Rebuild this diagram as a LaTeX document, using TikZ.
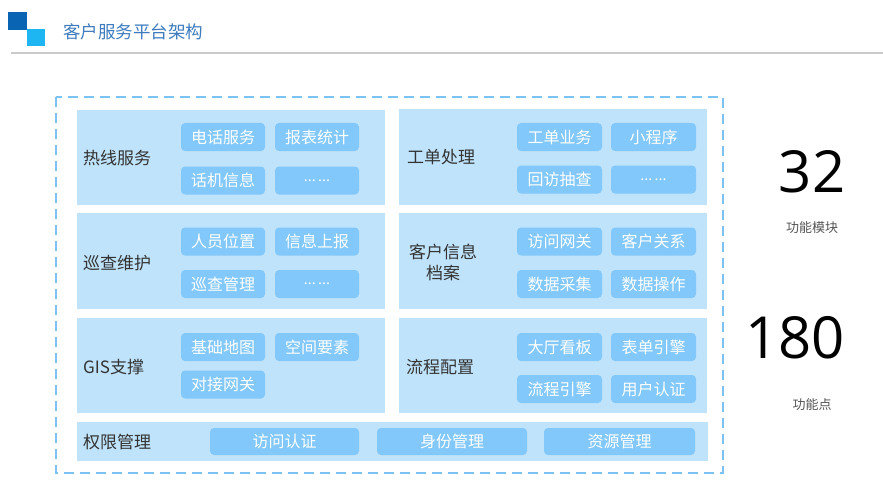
\documentclass[tikz,border=0pt]{standalone}
\usepackage{fontspec}
\setmainfont{Noto Sans CJK SC}
\newfontfamily\numfont{Open Sans}
\definecolor{panelc}{HTML}{BFE3FB}
\definecolor{pillc}{HTML}{82C8FA}
\definecolor{dashc}{HTML}{7CC3F3}
\definecolor{titlec}{HTML}{3E7CBF}
\definecolor{icondark}{HTML}{0A64B4}
\definecolor{iconlight}{HTML}{1DB6F2}
\definecolor{linec}{HTML}{CACACA}
\definecolor{labelc}{HTML}{333333}
\definecolor{greyc}{HTML}{555555}
\tikzset{
  panel/.style={fill=panelc, draw=none, inner sep=0pt},
  pill/.style={fill=pillc, draw=none, rounded corners=4pt, text=white, font=\fontsize{16}{18}\selectfont, inner sep=0pt, minimum height=28pt},
  lbl/.style={text=labelc, font=\fontsize{17}{22}\selectfont, inner sep=0pt},
  bignum/.style={text=black, font=\numfont\fontsize{58}{60}\selectfont, inner sep=0pt},
  statcap/.style={text=greyc, font=\fontsize{13}{15}\selectfont, inner sep=0pt}
}
\newcommand{\moredots}{{\numfont\fontsize{15}{16}\selectfont ...\,...}}
\begin{document}
\begin{tikzpicture}[x=1pt,y=-1pt]
\useasboundingbox[fill=white] (0,0) rectangle (883,500);
% header
\fill[icondark] (8,12) rectangle (27,30);
\fill[iconlight] (27,29) rectangle (45,46);
\node[anchor=west, text=titlec, font=\fontsize{17.5}{20}\selectfont, inner sep=0pt] (title) at (63,32) {客户服务平台架构};
\draw[linec, line width=1.5pt] (11,53) -- (883,53);
% outer dashed frame
\draw[dashc, line width=1.3pt, dash pattern=on 10pt off 6pt] (56,97) rectangle (723,473);
% panels
\node[panel, minimum width=308pt, minimum height=95pt] (p1) at (230.5,157.5) {};
\node[panel, minimum width=308pt, minimum height=95pt] (p2) at (553,157) {};
\node[panel, minimum width=308pt, minimum height=96pt] (p3) at (230.5,261) {};
\node[panel, minimum width=308pt, minimum height=96pt] (p4) at (553,261) {};
\node[panel, minimum width=308pt, minimum height=95pt] (p5) at (230.5,365.5) {};
\node[panel, minimum width=308pt, minimum height=95pt] (p6) at (553,365.5) {};
\node[panel, minimum width=631pt, minimum height=39pt] (p7) at (392,441.5) {};
% labels
\node[lbl, anchor=west] (l1) at (83,158) {热线服务};
\node[lbl, anchor=west] (l2) at (407,157) {工单处理};
\node[lbl, anchor=west] (l3) at (83,263) {巡查维护};
\node[lbl, align=center, font=\fontsize{17}{21}\selectfont] (l4) at (443,262) {客户信息\\档案};
\node[lbl, anchor=west] (l5) at (83,367) {GIS支撑};
\node[lbl, anchor=west] (l6) at (406,367) {流程配置};
\node[lbl, anchor=west] (l7) at (83,442) {权限管理};
% pills row 1
\node[pill, minimum width=84pt] (a1) at (223,137) {电话服务};
\node[pill, minimum width=84pt] (a2) at (317,137) {报表统计};
\node[pill, minimum width=84pt] (a3) at (223,180.5) {话机信息};
\node[pill, minimum width=84pt] (a4) at (317,180.5) {\moredots};
\node[pill, minimum width=85pt] (b1) at (559.5,137) {工单业务};
\node[pill, minimum width=85pt] (b2) at (653.5,137) {小程序};
\node[pill, minimum width=85pt] (b3) at (559.5,179.5) {回访抽查};
\node[pill, minimum width=85pt] (b4) at (653.5,179.5) {\moredots};
% pills row 2
\node[pill, minimum width=84pt] (c1) at (223,241.5) {人员位置};
\node[pill, minimum width=84pt] (c2) at (317,241.5) {信息上报};
\node[pill, minimum width=84pt] (c3) at (223,284) {巡查管理};
\node[pill, minimum width=84pt] (c4) at (317,284) {\moredots};
\node[pill, minimum width=85pt] (d1) at (559.5,241.5) {访问网关};
\node[pill, minimum width=85pt] (d2) at (653.5,241.5) {客户关系};
\node[pill, minimum width=85pt] (d3) at (559.5,284) {数据采集};
\node[pill, minimum width=85pt] (d4) at (653.5,284) {数据操作};
% pills row 3
\node[pill, minimum width=84pt] (e1) at (223,347) {基础地图};
\node[pill, minimum width=84pt] (e2) at (317,347) {空间要素};
\node[pill, minimum width=84pt] (e3) at (223,384.5) {对接网关};
\node[pill, minimum width=85pt] (f1) at (559.5,347) {大厅看板};
\node[pill, minimum width=85pt] (f2) at (653.5,347) {表单引擎};
\node[pill, minimum width=85pt] (f3) at (559.5,389) {流程引擎};
\node[pill, minimum width=85pt] (f4) at (653.5,389) {用户认证};
% bottom bar pills
\node[pill, minimum width=149pt, minimum height=27pt] (g1) at (284.5,441.5) {访问认证};
\node[pill, minimum width=150pt, minimum height=27pt] (g2) at (452,441.5) {身份管理};
\node[pill, minimum width=151pt, minimum height=27pt] (g3) at (619.5,441.5) {资源管理};
% statistics
\node[bignum] (n1) at (812,172) {32};
\node[statcap] (c32) at (812,228) {功能模块};
\node[bignum] (n2) at (795,338) {180};
\node[statcap] (c180) at (812,405) {功能点};
\end{tikzpicture}
\end{document}
